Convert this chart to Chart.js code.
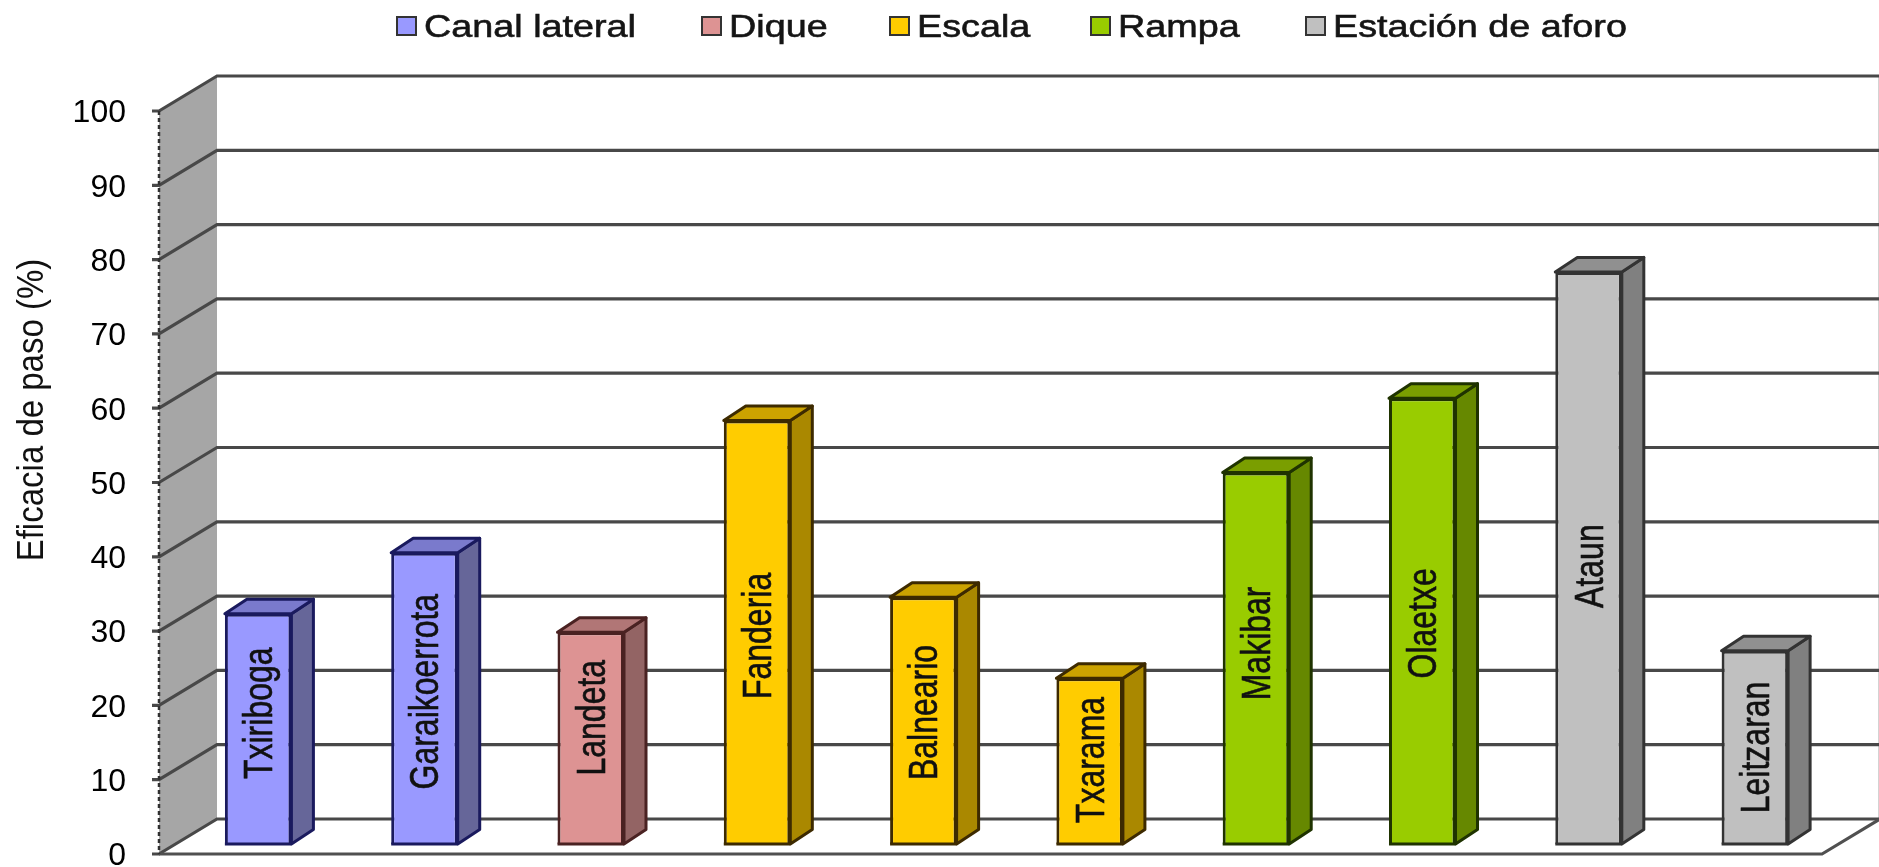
<!DOCTYPE html>
<html>
<head>
<meta charset="utf-8">
<title>Eficacia de paso</title>
<script src="https://cdn.jsdelivr.net/npm/chart.js@4"></script>
<style>
    html, body { margin: 0; padding: 0; background: #fff; overflow: hidden; }
    #wrap { position: relative; width: 1879px; height: 867px; }
    #grafico { display: block; }
    #leyenda { position: absolute; left: 396px; top: 7px; height: 38px; width: 1300px; display: flex; align-items: center;
        font-family: "Liberation Sans", Arial, sans-serif; font-size: 32px; color: #151515; -webkit-text-stroke: 0.6px #151515;
        white-space: pre; }
    #leyenda .item { position: absolute; display: flex; align-items: center; }
    #leyenda .caja { width: 21px; height: 20px; box-sizing: border-box; border: 2px solid #333; margin-right: 7px; }
    #leyenda .txt { display: inline-block; transform-origin: left center; transform: scaleX(1.18); }
</style>
</head>
<body>
<div id="wrap">
    <canvas id="grafico" width="1879" height="867"></canvas>
    <div id="leyenda"></div>
</div>
<script>
var categorias = ['Txiriboga', 'Garaikoerrota', 'Landeta', 'Fanderia', 'Balneario', 'Txarama', 'Makibar', 'Olaetxe', 'Ataun', 'Leitzaran'];
var tipos = ['Canal lateral', 'Dique', 'Escala', 'Rampa', 'Estación de aforo'];

var canalLateral = [31, 39.2, null, null, null, null, null, null, null, null];
var dique = [null, null, 28.5, null, null, null, null, null, null, null];
var escala = [null, null, null, 57, 33.2, 22.3, null, null, null, null];
var rampa = [null, null, null, null, null, null, 50, 60, null, null];
var estacionAforo = [null, null, null, null, null, null, null, null, 77, 26];

var marcasY = [0, 10, 20, 30, 40, 50, 60, 70, 80, 90, 100];

var colores = ['#9999ff', '#dd9393', '#ffcc00', '#99cc00', '#c0c0c0'];
var coloresLado = ['#666699', '#936464', '#aa8800', '#668800', '#808080'];
var coloresTapa = ['#7a7acc', '#b17676', '#cca300', '#7a9e00', '#909090'];
var coloresBorde = ['#1a1a5e', '#4a2222', '#3d2a00', '#1f3300', '#333333'];

// donde va el nombre dentro de cada barra, en unidades del eje y
var alturaNombre = [17.6, 20.5, 17, 28, 17.7, 11.3, 27, 29.7, 37.4, 13];

// desplazamientos de la falsa perspectiva
var frente = { dx: -16, dy: 10 };   // plano de las barras -> plano frontal
var fondo = { dx: 42, dy: -25 };    // plano de las barras -> pared del fondo
var barra3d = { dx: 22, dy: -14.5 };

var series = [canalLateral, dique, escala, rampa, estacionAforo];

var perspectiva = {
    id: 'perspectiva',
    beforeDatasetsDraw: function (chart) {
        var ctx = chart.ctx, a = chart.chartArea, y = chart.scales.y;
        var xF = a.left + frente.dx, xB = a.left + fondo.dx;
        var xRF = a.right + frente.dx, xRB = a.right + fondo.dx;
        var y0 = y.getPixelForValue(0), y100 = y.getPixelForValue(100);

        ctx.save();
        // pared izquierda
        ctx.fillStyle = '#a6a6a6';
        ctx.beginPath();
        ctx.moveTo(xF, y100 + frente.dy);
        ctx.lineTo(xB, y100 + fondo.dy);
        ctx.lineTo(xB, y0 + fondo.dy);
        ctx.lineTo(xF, y0 + frente.dy);
        ctx.closePath();
        ctx.fill();

        // borde derecho de la pared del fondo
        ctx.strokeStyle = '#a8a8a8';
        ctx.lineWidth = 3;
        ctx.beginPath();
        ctx.moveTo(xRB, y100 + fondo.dy);
        ctx.lineTo(xRB, y0 + fondo.dy);
        ctx.stroke();

        // lineas de rejilla
        ctx.strokeStyle = '#484848';
        marcasY.forEach(function (v) {
            var py = y.getPixelForValue(v);
            ctx.lineWidth = 3.2;
            ctx.beginPath();
            ctx.moveTo(xF - 7, py + frente.dy);
            ctx.lineTo(xF, py + frente.dy);
            ctx.lineTo(xB, py + fondo.dy);
            ctx.lineTo(xRB, py + fondo.dy);
            ctx.stroke();
        });

        // suelo
        ctx.strokeStyle = '#505050';
        ctx.beginPath();
        ctx.moveTo(xF, y0 + frente.dy);
        ctx.lineTo(xRF, y0 + frente.dy);
        ctx.lineTo(xRB, y0 + fondo.dy);
        ctx.stroke();

        // eje punteado
        ctx.strokeStyle = '#303030';
        ctx.lineWidth = 2.5;
        ctx.setLineDash([4, 3]);
        ctx.beginPath();
        ctx.moveTo(xF, y100 + frente.dy);
        ctx.lineTo(xF, y0 + frente.dy);
        ctx.stroke();
        ctx.restore();
    },
    afterDatasetsDraw: function (chart) {
        var ctx = chart.ctx, y = chart.scales.y;
        ctx.save();
        ctx.lineJoin = 'round';
        chart.data.datasets.forEach(function (ds, i) {
            chart.getDatasetMeta(i).data.forEach(function (bar, j) {
                if (ds.data[j] === null) return;
                var r = bar.x + bar.width / 2, l = bar.x - bar.width / 2;
                var t = bar.y, b = bar.base;
                ctx.lineWidth = 3;
                ctx.strokeStyle = coloresBorde[i];
                // lado
                ctx.fillStyle = coloresLado[i];
                ctx.beginPath();
                ctx.moveTo(r, t);
                ctx.lineTo(r + barra3d.dx, t + barra3d.dy);
                ctx.lineTo(r + barra3d.dx, b + barra3d.dy);
                ctx.lineTo(r, b);
                ctx.closePath();
                ctx.fill();
                ctx.stroke();
                // tapa
                ctx.fillStyle = coloresTapa[i];
                ctx.beginPath();
                ctx.moveTo(l, t);
                ctx.lineTo(l + barra3d.dx, t + barra3d.dy);
                ctx.lineTo(r + barra3d.dx, t + barra3d.dy);
                ctx.lineTo(r, t);
                ctx.closePath();
                ctx.fill();
                ctx.stroke();
                // pie de la barra
                ctx.beginPath();
                ctx.moveTo(l, b);
                ctx.lineTo(r, b);
                ctx.stroke();
                // nombre
                ctx.save();
                ctx.translate(bar.x + 3, y.getPixelForValue(alturaNombre[j]));
                ctx.scale(1.25, 1);
                ctx.rotate(-Math.PI / 2);
                ctx.fillStyle = '#111';
                ctx.strokeStyle = '#111';
                ctx.lineWidth = 0.5;
                ctx.font = '32px "Liberation Sans", Arial, sans-serif';
                ctx.textAlign = 'center';
                ctx.textBaseline = 'middle';
                ctx.fillText(categorias[j], 0, 0);
                ctx.strokeText(categorias[j], 0, 0);
                ctx.restore();
            });
        });

        // titulo del eje
        ctx.translate(33, 410);
        ctx.scale(1.1, 1);
        ctx.rotate(-Math.PI / 2);
        ctx.fillStyle = '#111';
        ctx.font = '33px "Liberation Sans", Arial, sans-serif';
        ctx.textAlign = 'center';
        ctx.textBaseline = 'middle';
        ctx.fillText('Eficacia de paso (%)', 0, 0);
        ctx.restore();
    }
};

var grafico = new Chart(document.getElementById('grafico').getContext('2d'), {
    type: 'bar',
    data: {
        labels: categorias,
        datasets: series.map(function (s, i) {
            return {
                label: tipos[i],
                data: s,
                backgroundColor: colores[i],
                borderColor: coloresBorde[i],
                borderWidth: 3,
                barPercentage: 0.4,
                categoryPercentage: 1
            };
        })
    },
    options: {
        responsive: false,
        animation: false,
        layout: { padding: { top: 101, bottom: 23, right: 41, left: 0 } },
        plugins: { legend: { display: false }, tooltip: { enabled: false } },
        scales: {
            x: { stacked: true, display: false },
            y: {
                stacked: true,
                min: 0,
                max: 100,
                afterFit: function (scale) {
                    scale.width = 175;
                    scale.paddingTop = 0;
                    scale.paddingBottom = 0;
                },
                afterBuildTicks: function (scale) { scale.ticks = marcasY.map(function (v) { return { value: v }; }); },
                border: { display: false },
                grid: { display: false, drawTicks: false },
                ticks: {
                    padding: 49,
                    labelOffset: 12.5,
                    color: '#000',
                    font: { family: '"Liberation Sans", Arial, sans-serif', size: 32 }
                }
            }
        }
    },
    plugins: [perspectiva]
});

// leyenda en html, con las mismas series
var inicioLeyenda = [0, 305, 493, 694, 909];
var leyenda = document.getElementById('leyenda');
tipos.forEach(function (t, i) {
    var item = document.createElement('div');
    item.className = 'item';
    item.style.left = inicioLeyenda[i] + 'px';
    var caja = document.createElement('span');
    caja.className = 'caja';
    caja.style.background = colores[i];
    var txt = document.createElement('span');
    txt.className = 'txt';
    txt.textContent = t;
    item.appendChild(caja);
    item.appendChild(txt);
    leyenda.appendChild(item);
});
</script>
</body>
</html>
